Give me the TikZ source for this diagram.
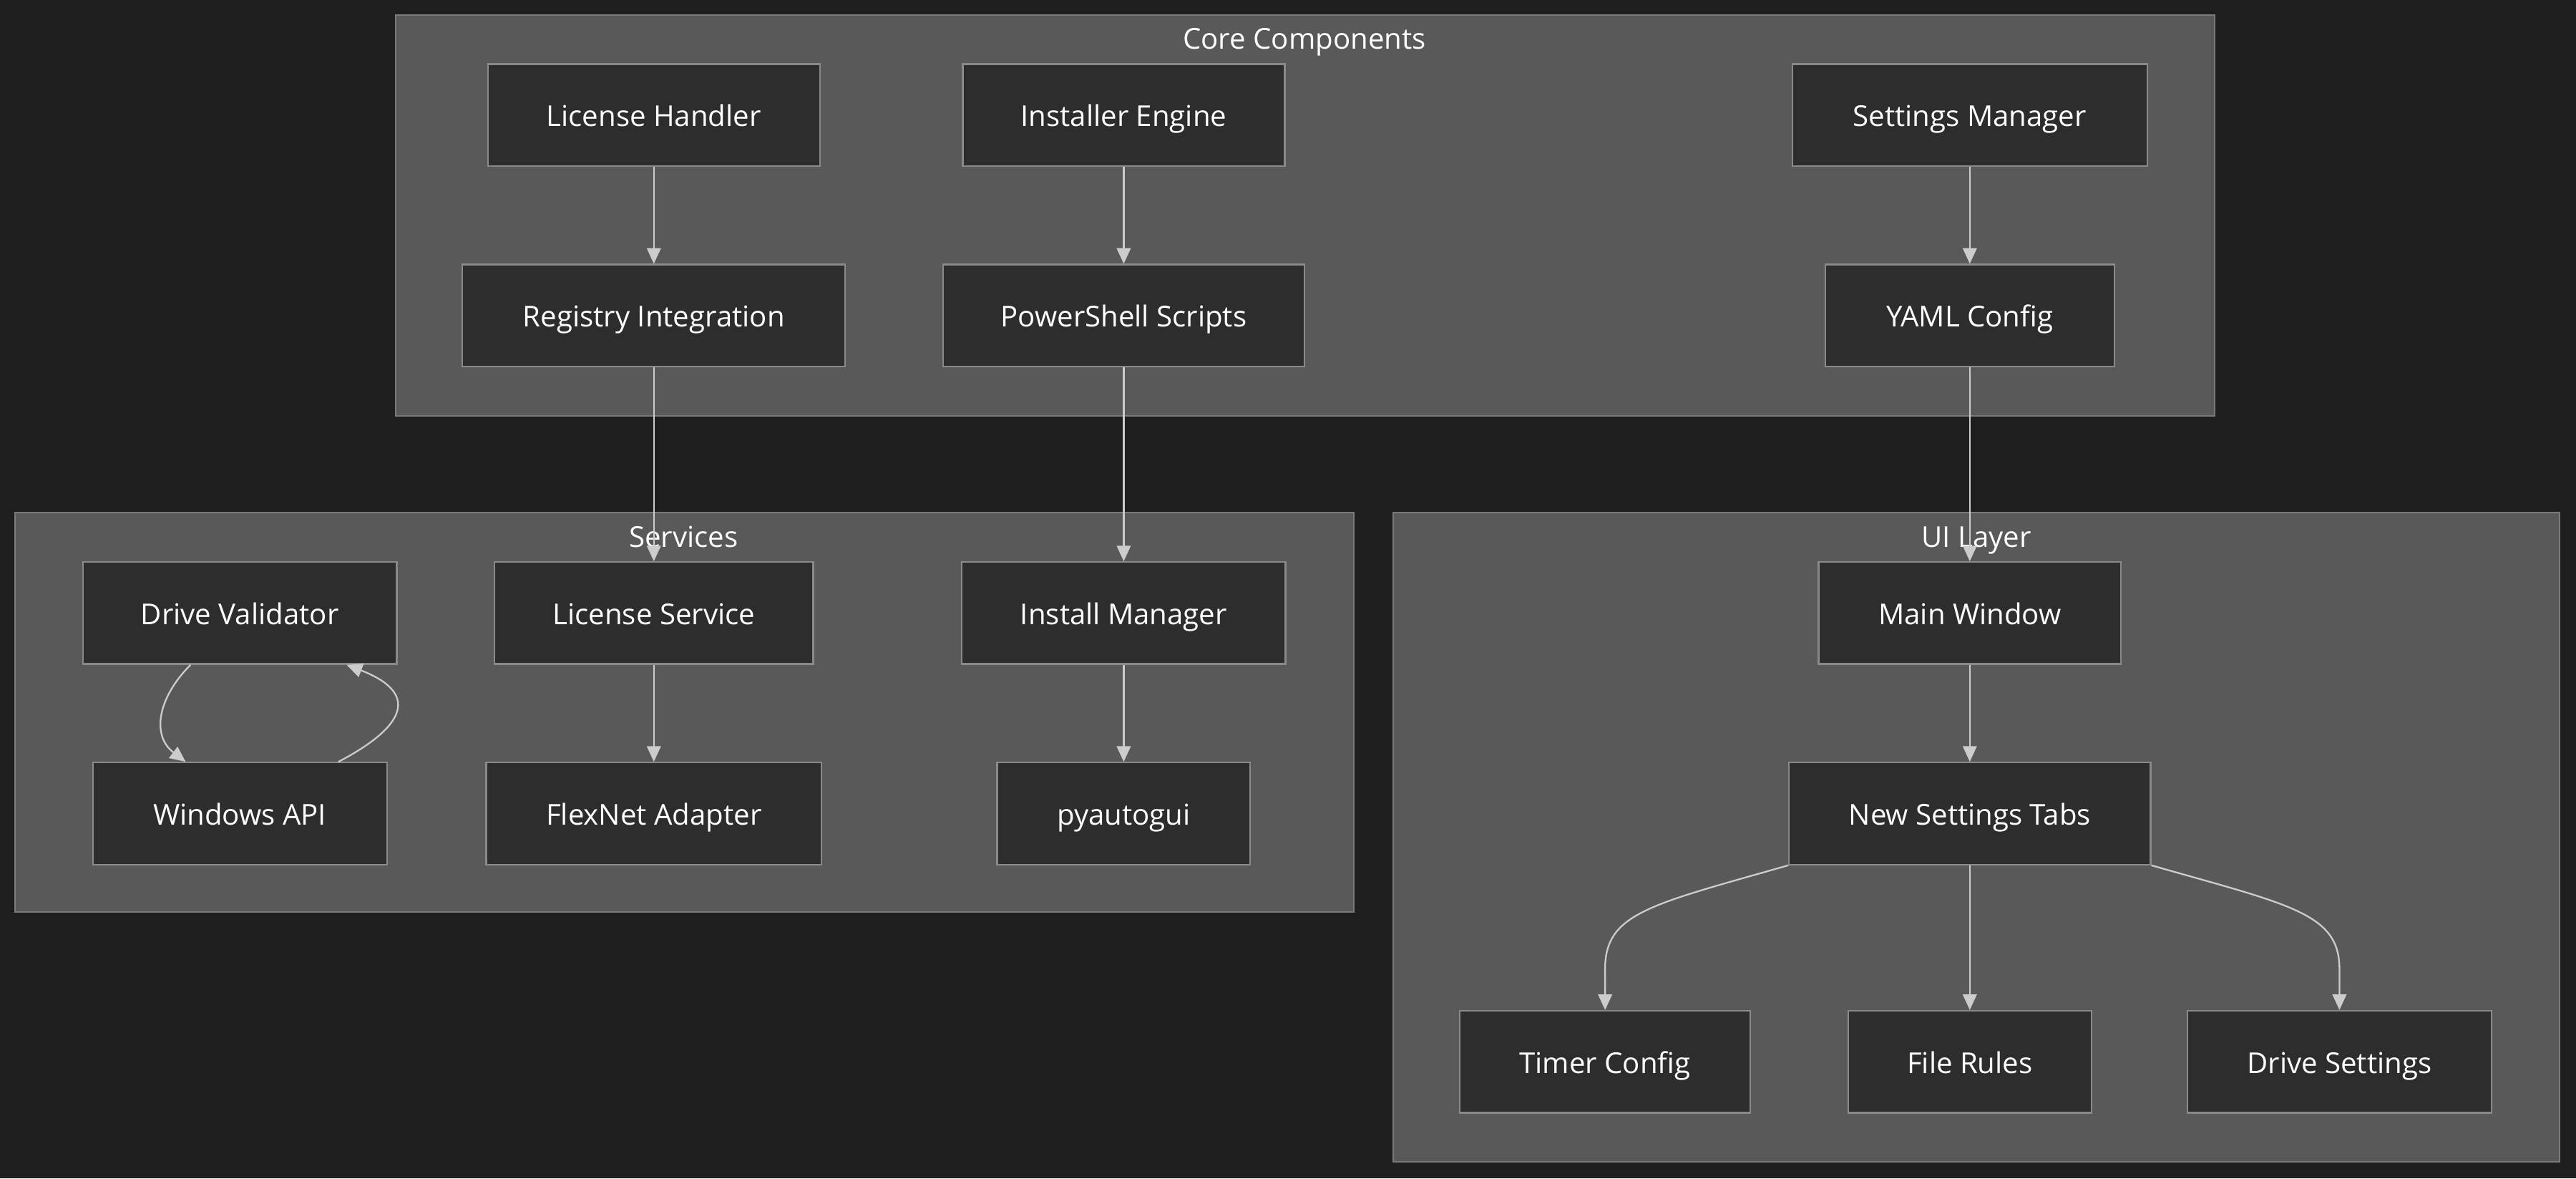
\documentclass[tikz,border=0pt]{standalone}
\usepackage{fontspec}
\setmainfont{Open Sans}
\usepackage{tikz}
\usetikzlibrary{arrows.meta}
\usetikzlibrary{calc}
\usetikzlibrary{positioning}

\definecolor{bgcol}{HTML}{1E1E1E}
\definecolor{clusterfill}{HTML}{595959}
\definecolor{clusterline}{HTML}{7A7A7A}
\definecolor{nodefill}{HTML}{2D2D2D}
\definecolor{nodeline}{HTML}{8A8A8A}
\definecolor{edgecol}{HTML}{CCCCCC}

\tikzset{
	box/.style={draw=nodeline, fill=nodefill, line width=1pt, text=white, minimum height=62pt, inner sep=0pt, text height=14pt, text depth=0pt, font=\fontsize{17.5}{20}\selectfont},
	cluster/.style={draw=clusterline, fill=clusterfill, line width=1pt},
	clustertitle/.style={text=white, inner sep=0pt, text height=14pt, text depth=0pt, font=\fontsize{17.5}{20}\selectfont},
	link/.style={draw=edgecol, line width=1pt, -{Triangle[length=9.5pt,width=8.5pt]}},
}

\begin{document}
\begin{tikzpicture}[x=1pt,y=-1pt]
		\fill[bgcol] (0,0) rectangle (1568,717);
		\useasboundingbox (0,0) rectangle (1568,717);
		% clusters
		\draw[cluster] (241,9) rectangle (1348,253);
		\draw[cluster] (9,312) rectangle (824,555);
		\draw[cluster] (848,312) rectangle (1558,707);
		\node[clustertitle] (coretitle) at (794,23) {Core Components};
		\node[clustertitle] (servtitle) at (416,326) {Services};
		\node[clustertitle] (uititle) at (1203,326) {UI Layer};
		% core components
		\node[box, minimum width=202pt] (lh) at (398,70) {License Handler};
		\node[box, minimum width=196pt] (ie) at (684,70) {Installer Engine};
		\node[box, minimum width=216pt] (sm) at (1199,70) {Settings Manager};
		\node[box, minimum width=233pt] (ri) at (398,192) {Registry Integration};
		\node[box, minimum width=220pt] (ps) at (684,192) {PowerShell Scripts};
		\node[box, minimum width=176pt] (yc) at (1199,192) {YAML Config};
		% services
		\node[box, minimum width=191pt] (dv) at (146,373) {Drive Validator};
		\node[box, minimum width=194pt] (ls) at (398,373) {License Service};
		\node[box, minimum width=197pt] (im) at (684,373) {Install Manager};
		\node[box, minimum width=179pt] (wa) at (146,495) {Windows API};
		\node[box, minimum width=204pt] (fa) at (398,495) {FlexNet Adapter};
		\node[box, minimum width=154pt] (pg) at (684,495) {pyautogui};
		% ui layer
		\node[box, minimum width=184pt] (mw) at (1199,373) {Main Window};
		\node[box, minimum width=220pt] (nst) at (1199,495) {New Settings Tabs};
		\node[box, minimum width=177pt] (tc) at (977,646) {Timer Config};
		\node[box, minimum width=148pt] (fr) at (1199,646) {File Rules};
		\node[box, minimum width=185pt] (ds) at (1424,646) {Drive Settings};
		% links
		\draw[link] (lh) -- (ri);
		\draw[link] (ie) -- (ps);
		\draw[link] (sm) -- (yc);
		\draw[link] (ri) -- (ls);
		\draw[link] (ps) -- (im);
		\draw[link] (yc) -- (mw);
		\draw[link] (ls) -- (fa);
		\draw[link] (im) -- (pg);
		\draw[link] ($(dv.south)+(-30,0)$) .. controls +(-20,20) and +(-21,-16) .. ($(wa.north)+(-33,0)$);
		\draw[link] ($(wa.north)+(60,0)$) .. controls +(42,-22) and +(44,17) .. ($(dv.south)+(65,0)$);
		\draw[link] (mw) -- (nst);
		\draw[link] (nst.south west) .. controls +(-84,24) and +(0,-34) .. ($(tc.north)+(0,-25)$) -- (tc.north);
		\draw[link] (nst) -- (fr);
		\draw[link] (nst.south east) .. controls +(84,24) and +(0,-34) .. ($(ds.north)+(0,-25)$) -- (ds.north);
	\end{tikzpicture}
\end{document}
